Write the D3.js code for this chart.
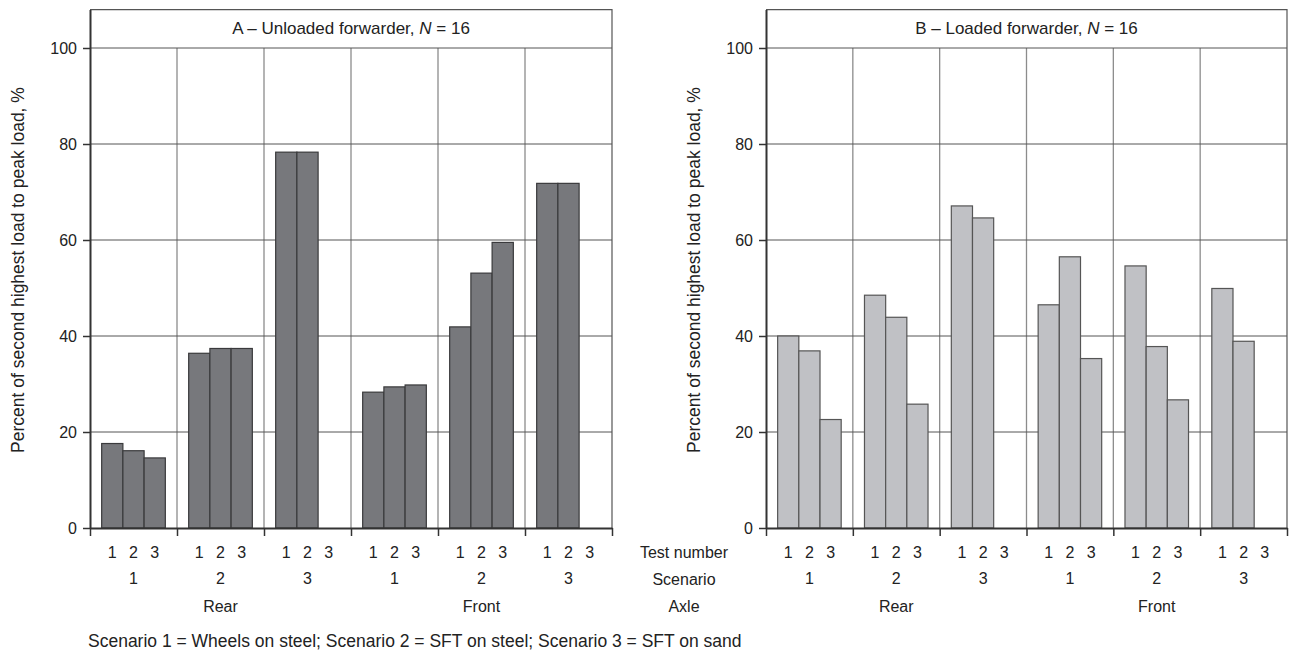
<!DOCTYPE html>
<html>
<head>
<meta charset="utf-8">
<script src="https://cdn.jsdelivr.net/npm/d3@7"></script>
<style>
  body { margin: 0; background: #fff; }
  text { font-family: "Liberation Sans Narrow", "Arial Narrow", "Liberation Sans", sans-serif; fill: #222; }
</style>
</head>
<body>
<div class="chart"></div>
<script>
// values, ordered axle > scenario > test number
var axles = ["Rear", "Front"];
var scenarios = ["1", "2", "3"];
var tests = ["1", "2", "3"];
var yTicks = [0, 20, 40, 60, 80, 100];
var rowLabels = ["Test number", "Scenario", "Axle"];
var caption = "Scenario 1 = Wheels on steel; Scenario 2 = SFT on steel; Scenario 3 = SFT on sand";

var unloaded = [17.6, 16.1, 14.6,  36.4, 37.4, 37.4,  78.3, 78.3, 0,
                28.3, 29.4, 29.8,  41.9, 53.1, 59.5,  71.8, 71.8, 0];
var loaded   = [40.0, 36.9, 22.6,  48.5, 43.9, 25.8,  67.1, 64.6, 0,
                46.5, 56.5, 35.3,  54.6, 37.8, 26.7,  49.9, 38.9, 0];

var svgWidth = 1291;
var svgHeight = 656;

var svg = d3.select(".chart")
    .append("svg")
    .attr("width", svgWidth)
    .attr("height", svgHeight);

// shared vertical scale
var y = d3.scaleLinear().domain([0, 108]).range([528, 9.6]);

// group keys: axle|scenario
var groups = [];
axles.forEach(a => scenarios.forEach(s => groups.push(a + "|" + s)));

function rows(values) {
    var out = [];
    var i = 0;
    axles.forEach(a => scenarios.forEach(s => tests.forEach(t => {
        out.push({axle: a, scenario: s, test: t, group: a + "|" + s, value: values[i++]});
    })));
    return out;
}

function drawPanel(opts) {
    var g = svg.append("g");
    var data = rows(opts.values);

    var x = d3.scaleBand().domain(groups).range([opts.x0, opts.x1]).padding(0);
    var xTest = d3.scaleBand().domain(tests).range([0, x.bandwidth()])
        .paddingInner(0).paddingOuter(0.55);
    var xEdge = d3.scaleLinear().domain([0, groups.length]).range([opts.x0, opts.x1]);

    // vertical grid at group boundaries (below the title strip)
    g.append("g").selectAll("line")
        .data(d3.range(1, groups.length))
        .enter().append("line")
        .attr("x1", d => xEdge(d)).attr("x2", d => xEdge(d))
        .attr("y1", y(100)).attr("y2", y(0))
        .attr("stroke", "#8c8c8c").attr("stroke-width", 1.3);

    // horizontal grid
    g.append("g").selectAll("line")
        .data(yTicks.filter(d => d > 0))
        .enter().append("line")
        .attr("x1", opts.x0).attr("x2", opts.x1)
        .attr("y1", d => y(d)).attr("y2", d => y(d))
        .attr("stroke", "#555").attr("stroke-width", 1);

    // frame top + right
    g.append("path")
        .attr("d", `M${opts.x0},${y(108)}H${opts.x1}V${y(0)}`)
        .attr("fill", "none").attr("stroke", "#555").attr("stroke-width", 1.2);

    // bars
    g.append("g").selectAll("rect")
        .data(data.filter(d => d.value > 0))
        .enter().append("rect")
        .attr("x", d => x(d.group) + xTest(d.test))
        .attr("width", xTest.bandwidth())
        .attr("y", d => y(d.value))
        .attr("height", d => y(0) - y(d.value))
        .attr("fill", opts.fill)
        .attr("stroke", opts.stroke)
        .attr("stroke-width", 1.2);

    // y axis
    var yAxis = d3.axisLeft(y).tickValues(yTicks).tickSize(7).tickSizeOuter(0);
    var ya = g.append("g")
        .attr("transform", `translate(${opts.x0},0)`)
        .call(yAxis);
    ya.select(".domain").attr("stroke", "#333").attr("stroke-width", 2);
    ya.selectAll(".tick line").attr("stroke", "#333").attr("stroke-width", 1.5);
    ya.selectAll(".tick text").attr("font-size", 16).attr("x", -13).attr("fill", "#222");

    // x axis (group boundary ticks)
    var xAxis = d3.axisBottom(xEdge).tickValues(d3.range(0, groups.length + 1))
        .tickFormat("").tickSize(8).tickSizeOuter(0);
    var xa = g.append("g")
        .attr("transform", `translate(0,${y(0)})`)
        .call(xAxis);
    xa.select(".domain").attr("stroke", "#333").attr("stroke-width", 1.8);
    xa.selectAll(".tick line").attr("stroke", "#333").attr("stroke-width", 1.5);

    // test number labels
    g.append("g").selectAll("text")
        .data(data)
        .enter().append("text")
        .attr("x", d => x(d.group) + xTest(d.test) + xTest.bandwidth() / 2)
        .attr("y", 558)
        .attr("text-anchor", "middle")
        .attr("font-size", 16)
        .text(d => d.test);

    // scenario labels
    g.append("g").selectAll("text")
        .data(groups)
        .enter().append("text")
        .attr("x", d => x(d) + x.bandwidth() / 2)
        .attr("y", 584)
        .attr("text-anchor", "middle")
        .attr("font-size", 16)
        .text(d => d.split("|")[1]);

    // axle labels
    g.append("g").selectAll("text")
        .data(axles)
        .enter().append("text")
        .attr("x", (d, i) => xEdge(i * 3 + 1.5))
        .attr("y", 612)
        .attr("text-anchor", "middle")
        .attr("font-size", 16)
        .text(d => d);

    // panel title
    var title = g.append("text")
        .attr("x", (opts.x0 + opts.x1) / 2)
        .attr("y", 34)
        .attr("text-anchor", "middle")
        .attr("font-size", 17);
    title.append("tspan").text(opts.title);
    title.append("tspan").attr("font-style", "italic").text("N");
    title.append("tspan").text(" = 16");

    // y axis title
    g.append("text")
        .attr("transform", `translate(${opts.x0 - 66},${270}) rotate(-90)`)
        .attr("text-anchor", "middle")
        .attr("font-size", 17.5)
        .text("Percent of second highest load to peak load, %");
}

drawPanel({
    values: unloaded, x0: 90, x1: 612,
    fill: "#77787c", stroke: "#3a3a3c",
    title: "A \u2013 Unloaded forwarder, "
});

drawPanel({
    values: loaded, x0: 766, x1: 1287,
    fill: "#c0c1c5", stroke: "#555",
    title: "B \u2013 Loaded forwarder, "
});

// row labels between the panels
svg.append("g").selectAll("text")
    .data(rowLabels)
    .enter().append("text")
    .attr("x", 684)
    .attr("y", (d, i) => 558 + i * 27)
    .attr("text-anchor", "middle")
    .attr("font-size", 16)
    .text(d => d);

svg.append("text")
    .attr("x", 88)
    .attr("y", 647)
    .attr("font-size", 17.5)
    .text(caption);
</script>
</body>
</html>
